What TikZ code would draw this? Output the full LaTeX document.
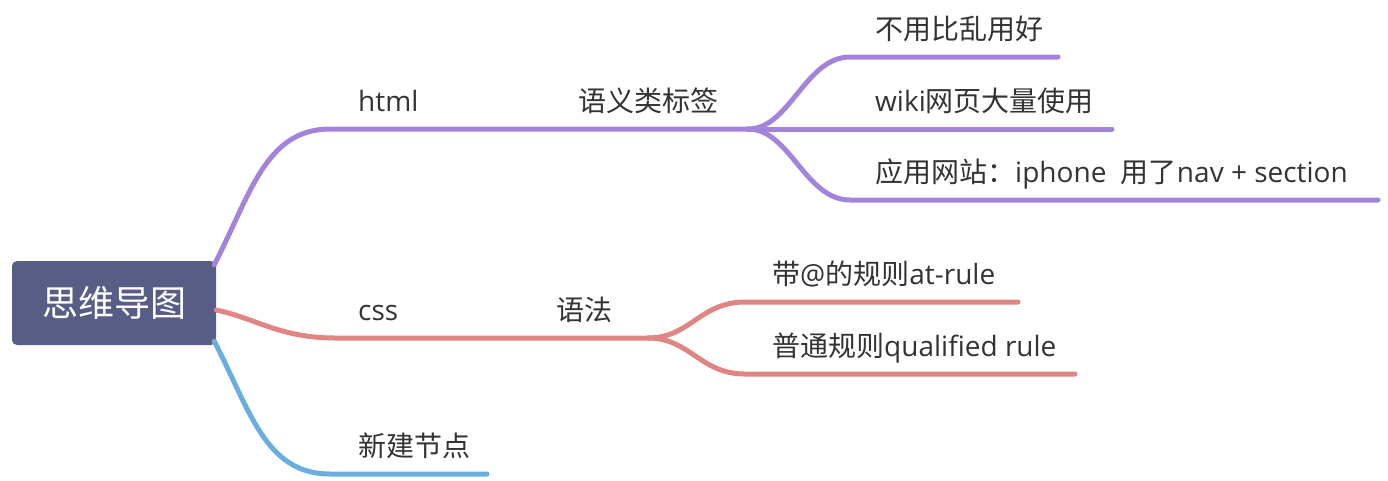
\documentclass[tikz,border=0pt]{standalone}
\usepackage{fontspec}
\setmainfont{Open Sans}
\newfontfamily\cjk{Noto Sans CJK SC}
\usetikzlibrary{positioning}
\definecolor{rootcol}{HTML}{585D86}
\definecolor{purplecol}{HTML}{A384DC}
\definecolor{redcol}{HTML}{E08484}
\definecolor{bluecol}{HTML}{6AAEE0}
\definecolor{textcol}{HTML}{333333}
\begin{document}
\begin{tikzpicture}[x=1pt,y=-1pt,line cap=round,line join=round]
	\tikzset{rootbox/.style={fill=rootcol,rounded corners=5pt,minimum width=204pt,minimum height=84pt,inner sep=0pt,text=white,font=\cjk\fontsize{36}{40}\selectfont},
		topic/.style={anchor=base west,inner sep=0pt,text=textcol,font=\fontsize{28}{32}\selectfont},
		branch/.style={line width=5pt}}
	\useasboundingbox (0,0) rectangle (1388,480);
	% central topic
	\node[rootbox] (root) at (114,303) {思维导图};
	% main branches
	\node[topic] (html) at (358,111) {html};
	\node[topic] (yuyi) at (578,111) {\cjk 语义类标签};
	\node[topic] (css) at (358,320) {css};
	\node[topic] (yufa) at (556,320) {\cjk 语法};
	\node[topic] (xinjian) at (358,456) {\cjk 新建节点};
	% sub branches
	\node[topic] (buyong) at (875,39) {\cjk 不用比乱用好};
	\node[topic] (wiki) at (875,111) {wiki{\cjk 网页大量使用}};
	\node[topic] (yingyong) at (875,182) {{\cjk 应用网站：}iphone\ \ {\cjk 用了}nav + section};
	\node[topic] (daiat) at (772,284) {{\cjk 带}@{\cjk 的规则}at-rule};
	\node[topic] (putong) at (772,356) {{\cjk 普通规则}qualified rule};
	% line points
	\coordinate (htmlS) at (330,129);
	\coordinate (htmlF) at (748,129);
	\coordinate (cssS) at (335,338);
	\coordinate (cssF) at (648,338);
	\coordinate (newS) at (330,474);
	\coordinate (newE) at (487,474);
	% html
	\draw[branch,purplecol] ([xshift=-2pt,yshift=-4pt]root.north east) .. controls (250,196) and (265,129) .. (htmlS) -- (htmlF);
	\draw[branch,purplecol] (htmlF) .. controls (790,129) and (805,57) .. (850,57) -- (1058,57);
	\draw[branch,purplecol] (htmlF) -- (1112,129);
	\draw[branch,purplecol] (htmlF) .. controls (790,129) and (805,200) .. (850,200) -- (1378,200);
	% css
	\draw[branch,redcol] ([yshift=-7pt]root.east) .. controls (255,318) and (280,338) .. (cssS) -- (cssF);
	\draw[branch,redcol] (cssF) .. controls (690,338) and (700,302) .. (745,302) -- (1018,302);
	\draw[branch,redcol] (cssF) .. controls (690,338) and (700,374) .. (745,374) -- (1075,374);
	% new node
	\draw[branch,bluecol] ([xshift=-2pt,yshift=4pt]root.south east) .. controls (250,410) and (265,474) .. (newS) -- (newE);
\end{tikzpicture}
\end{document}
